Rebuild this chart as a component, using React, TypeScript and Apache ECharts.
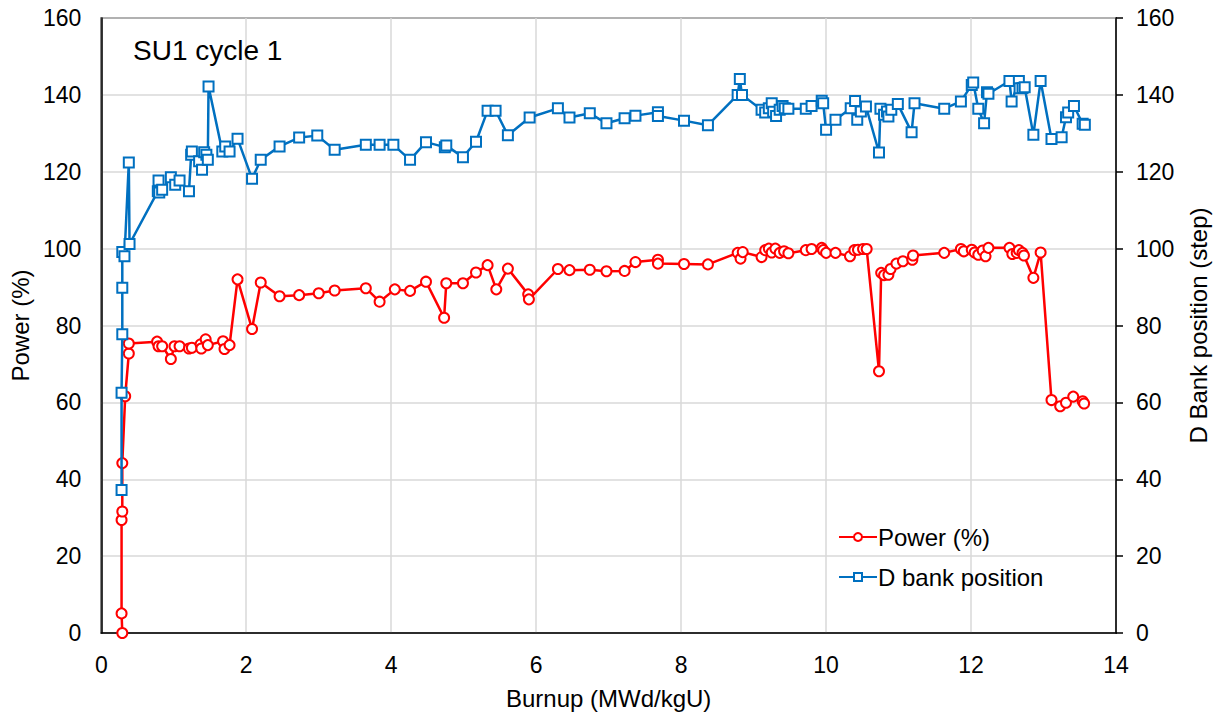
import React, { useEffect, useRef } from "react";
import * as echarts from "echarts";

const titleText = "SU1 cycle 1";
const xTicks = [0, 2, 4, 6, 8, 10, 12, 14];
const yTicks = [0, 20, 40, 60, 80, 100, 120, 140, 160];

const powerBurnup = [
  0.29, 0.28, 0.28, 0.29, 0.29, 0.33, 0.38, 0.38, 0.77, 0.79, 0.84, 0.96, 1.01, 1.08, 1.21, 1.25,
  1.37, 1.38, 1.44, 1.47, 1.68, 1.70, 1.77, 1.88, 2.08, 2.20, 2.46, 2.73, 3.00, 3.22, 3.65, 3.84,
  4.05, 4.26, 4.48, 4.73, 4.76, 4.99, 5.17, 5.33, 5.45, 5.61, 5.89, 5.90, 6.30, 6.46, 6.74, 6.97,
  7.22, 7.37, 7.68, 7.68, 8.04, 8.37, 8.78, 8.82, 8.85, 9.11, 9.16, 9.21, 9.25, 9.30, 9.36, 9.42,
  9.48, 9.72, 9.80, 9.94, 9.96, 10.0, 10.13, 10.33, 10.39, 10.44, 10.51, 10.56, 10.73, 10.76, 10.80,
  10.86, 10.89, 10.97, 11.06, 11.19, 11.20, 11.63, 11.86, 11.90, 12.01, 12.05, 12.10, 12.16, 12.20,
  12.24, 12.53, 12.57, 12.63, 12.66, 12.71, 12.73, 12.86, 12.96, 13.11, 13.23, 13.31, 13.41, 13.54,
  13.56,
];
const powerValues = [
  0, 5.1, 29.4, 31.6, 44.2, 61.6, 72.7, 75.3, 75.8, 74.6, 74.6, 71.3, 74.6, 74.6, 74.0, 74.2,
  75.1, 74.0, 76.4, 74.9, 75.9, 73.9, 74.9, 92.0, 79.1, 91.2, 87.6, 87.9, 88.4, 89.1, 89.7, 86.2,
  89.4, 89.0, 91.4, 82.0, 91.0, 91.0, 93.8, 95.7, 89.4, 94.8, 88.1, 86.8, 94.7, 94.4, 94.5, 94.1,
  94.2, 96.5, 97.1, 96.1, 96.0, 95.9, 98.9, 97.4, 99.1, 97.8, 99.6, 100.0, 99.0, 100.0, 98.9, 99.3,
  98.8, 99.6, 99.9, 100.2, 99.6, 98.9, 98.9, 98.0, 99.6, 99.7, 99.9, 99.9, 68.1, 93.7, 93.1,
  93.2, 94.7, 96.1, 96.7, 97.1, 98.2, 98.9, 99.9, 99.3, 99.7, 99.0, 98.4, 99.5, 98.0,
  100.2, 100.2, 98.6, 98.9, 99.6, 98.9, 98.2, 92.4, 99.0, 60.6, 59.0, 59.9, 61.5, 60.3,
  59.7,
];

const bankBurnup = [
  0.28, 0.28, 0.29, 0.29, 0.29, 0.32, 0.38, 0.39, 0.78, 0.79, 0.80, 0.84, 0.96, 1.02, 1.08, 1.21,
  1.24, 1.25, 1.35, 1.39, 1.42, 1.45, 1.47, 1.48, 1.67, 1.71, 1.77, 1.88, 2.08, 2.20, 2.46, 2.73,
  2.98, 3.22, 3.65, 3.84, 4.03, 4.26, 4.48, 4.74, 4.76, 4.99, 5.17, 5.33, 5.44, 5.61, 5.91, 6.30,
  6.46, 6.74, 6.97, 7.22, 7.37, 7.68, 7.68, 8.04, 8.37, 8.78, 8.81, 8.84, 9.11, 9.16, 9.21, 9.25,
  9.27, 9.31, 9.36, 9.40, 9.43, 9.48, 9.72, 9.80, 9.94, 9.96, 10.0, 10.13, 10.34, 10.40, 10.43,
  10.48, 10.55, 10.73, 10.75, 10.80, 10.84, 10.86, 10.90, 10.99, 11.18, 11.22, 11.63, 11.86, 12.01,
  12.03, 12.10, 12.18, 12.22, 12.24, 12.53, 12.56, 12.66, 12.67, 12.71, 12.74, 12.86, 12.96, 13.11,
  13.25, 13.31, 13.34, 13.42, 13.54, 13.57,
];
const bankValues = [
  37.2, 62.5, 77.7, 89.8, 99.1, 98.0, 122.4, 101.2, 114.9, 117.7, 114.6, 115.3, 118.6, 116.6, 117.7, 114.9,
  124.4, 125.3, 122.7, 120.5, 125.1, 124.4, 123.1, 142.2, 125.3, 126.6, 125.3, 128.6, 118.2, 123.1, 126.6, 128.9,
  129.4, 125.7, 127.0, 127.0, 127.0, 123.1, 127.7, 126.4, 126.8, 123.8, 127.8, 135.9, 135.9, 129.5, 134.1, 136.5,
  134.1, 135.2, 132.6, 133.9, 134.6, 135.5, 134.5, 133.3, 132.1, 140.0, 144.1, 140.0, 136.1, 135.4, 136.5, 137.8,
  135.6, 134.5, 136.1, 137.1, 136.5, 136.4, 136.4, 137.1, 138.5, 137.8, 130.9, 133.5, 136.5, 138.4, 133.5,
  135.7, 137.0, 125.0, 136.4, 134.8, 135.7, 134.4, 136.1, 137.6, 130.3, 137.8, 136.4, 138.3, 142.6,
  143.2, 136.4, 132.6, 140.7, 140.3, 143.6, 138.3, 143.6, 141.7, 141.8, 142.0, 129.6, 143.6, 128.5,
  129.0, 134.2, 135.4, 137.1, 132.5, 132.2,
];

const FONT = "'Liberation Sans', Arial, sans-serif";

export default function App() {
  const ref = useRef<HTMLDivElement>(null);
  useEffect(() => {
    if (!ref.current) return;
    const chart = echarts.init(ref.current, undefined, { renderer: "svg" });
    const powerData = powerBurnup.map((x, i) => [x, powerValues[i]]);
    const bankData = bankBurnup.map((x, i) => [x, bankValues[i]]);
    const tickStyle = { color: "#000", fontSize: 23, fontFamily: FONT };
    const nameStyle = { color: "#000", fontSize: 24, fontFamily: FONT };
    chart.setOption({
      animation: false,
      backgroundColor: "#fff",
      textStyle: { fontFamily: FONT },
      grid: {
        left: 99,
        right: 109,
        top: 18,
        bottom: 88,
        show: true,
        borderColor: "#000",
        borderWidth: 1.5,
        backgroundColor: "transparent",
      },
      title: {
        text: titleText,
        left: 128,
        top: 31,
        textStyle: { fontSize: 28, fontWeight: "normal", color: "#000", fontFamily: FONT },
      },
      legend: {
        orient: "vertical",
        left: 833,
        top: 520,
        itemGap: 16,
        itemWidth: 38,
        itemHeight: 10,
        textStyle: { fontSize: 24, color: "#000", fontFamily: FONT, padding: [0, 0, 0, -4] },
        data: ["Power (%)", "D bank position"],
      },
      xAxis: {
        type: "value",
        min: 0,
        max: 14,
        interval: 2,
        name: "Burnup (MWd/kgU)",
        nameLocation: "middle",
        nameGap: 53,
        nameTextStyle: nameStyle,
        axisLine: { show: true, lineStyle: { color: "#000", width: 1.5 } },
        axisTick: { show: false },
        axisLabel: { ...tickStyle, margin: 20, formatter: (v: number) => (xTicks.includes(v) ? String(v) : "") },
        splitLine: { show: true, lineStyle: { color: "#d9d9d9", width: 1.5 } },
      },
      yAxis: [
        {
          type: "value",
          min: 0,
          max: 160,
          interval: 20,
          name: "Power (%)",
          nameLocation: "middle",
          nameGap: 67,
          nameTextStyle: nameStyle,
          axisLine: { show: true, lineStyle: { color: "#000", width: 1.5 } },
          axisTick: { show: false },
          axisLabel: { ...tickStyle, margin: 20, formatter: (v: number) => (yTicks.includes(v) ? String(v) : "") },
          splitLine: { show: true, lineStyle: { color: "#d9d9d9", width: 1.5 } },
        },
        {
          type: "value",
          min: 0,
          max: 160,
          interval: 20,
          position: "right",
          name: "D Bank position (step)",
          nameLocation: "middle",
          nameGap: 70,
          nameRotate: 90,
          nameTextStyle: nameStyle,
          axisLine: { show: true, lineStyle: { color: "#000", width: 1.5 } },
          axisTick: { show: true, inside: false, length: 7, lineStyle: { color: "#000", width: 1.5 } },
          axisLabel: { ...tickStyle, margin: 20, formatter: (v: number) => (yTicks.includes(v) ? String(v) : "") },
          splitLine: { show: false },
        },
      ],
      series: [
        {
          name: "Power (%)",
          type: "line",
          yAxisIndex: 0,
          data: powerData,
          symbol: "emptyCircle",
          symbolSize: 10,
          lineStyle: { color: "#ff0000", width: 2.5 },
          itemStyle: { color: "#ff0000", borderColor: "#ff0000", borderWidth: 1.5 },
          z: 3,
        },
        {
          name: "D bank position",
          type: "line",
          yAxisIndex: 1,
          data: bankData,
          symbol: "emptyRect",
          symbolSize: 10,
          lineStyle: { color: "#0070c0", width: 2.5 },
          itemStyle: { color: "#0070c0", borderColor: "#0070c0", borderWidth: 1.5 },
          z: 4,
        },
      ],
    });
    return () => chart.dispose();
  }, []);
  return (
    <div
      ref={ref}
      style={{ position: "absolute", left: 0, top: 0, width: 1225, height: 721, background: "#fff" }}
    />
  );
}
